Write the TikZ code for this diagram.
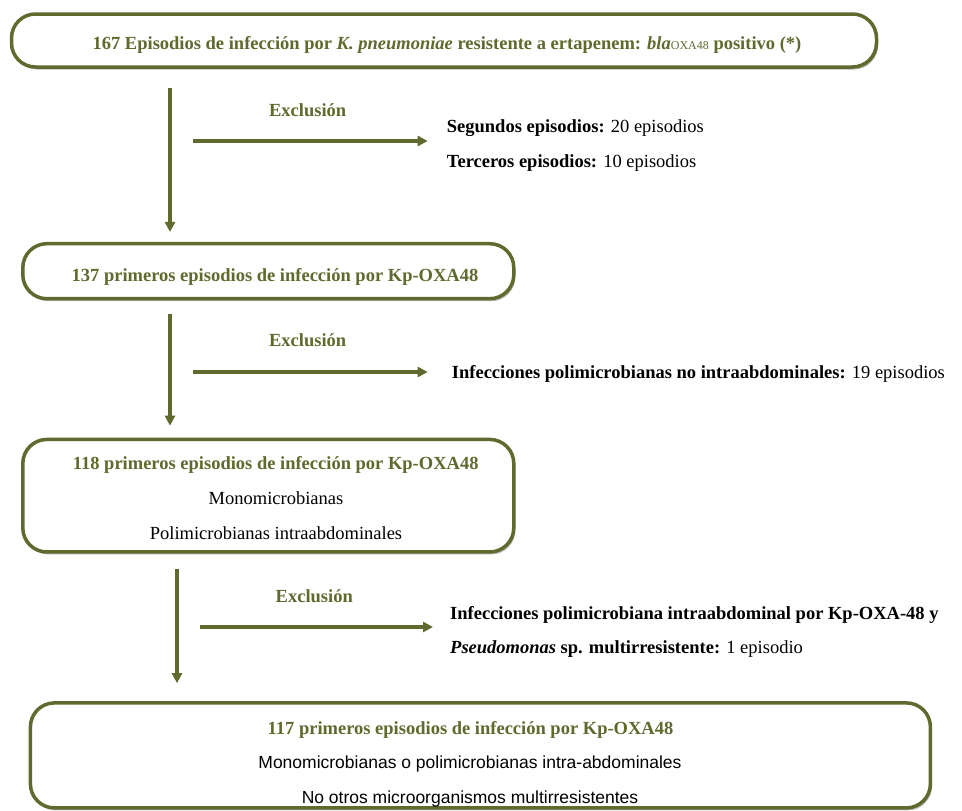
\documentclass[tikz,border=0pt]{standalone}
\usepackage{fontspec}
\setmainfont{Liberation Serif}
\newfontfamily\arialfont{Liberation Sans}
\usepackage{tikz}
\usetikzlibrary{calc,arrows.meta,positioning,shadows}
\definecolor{olivegreen}{RGB}{95,106,46}

\begin{document}
\begin{tikzpicture}[x=1pt,y=-1pt,
	box/.style={draw=olivegreen, line width=3.5pt, rounded corners=24pt, fill=white, drop shadow={shadow xshift=1.5pt, shadow yshift=-2.5pt, fill=black!50, opacity=0.55}},
	boxtitle/.style={text=olivegreen, font=\fontsize{18.5}{21}\selectfont\bfseries, inner sep=0pt, anchor=base},
	excl/.style={text=olivegreen, font=\fontsize{18.5}{21}\selectfont\bfseries, inner sep=0pt, anchor=base},
	note/.style={font=\fontsize{18.5}{21}\selectfont, inner sep=0pt, anchor=base west},
	plain/.style={font=\fontsize{18.5}{21}\selectfont, inner sep=0pt, anchor=base},
	sansline/.style={font=\fontsize{17.5}{20}\selectfont\arialfont, inner sep=0pt, anchor=base},
	paths/.style={-{Triangle[length=10pt,width=10pt]}, draw=olivegreen, line width=3.2pt}
	] % End Creating Flow Chart Pieces

\useasboundingbox (0,0) rectangle (962,811);

% boxes
\node [box, minimum width=865, minimum height=53] at (444,40.5) (ep167) {};
\node [box, minimum width=491, minimum height=55] at (268.3,271.2) (ep137) {};
\node [box, minimum width=491, minimum height=112.5] at (268.3,495.7) (ep118) {};
\node [box, minimum width=900, minimum height=105] at (480.4,755.4) (ep117) {};

% box texts
\node [boxtitle] at (447,49) (t167) {167 Episodios de infección por \textit{K. pneumoniae} resistente a ertapenem: \textit{bla}{\mdseries\fontsize{12}{12}\selectfont OXA48} positivo (*)};
\node [boxtitle] at (275,281) (t137) {137 primeros episodios de infección por Kp-OXA48};
\node [boxtitle] at (275.7,469) (t118) {118 primeros episodios de infección por Kp-OXA48};
\node [plain] at (276,504) (mono) {Monomicrobianas};
\node [plain] at (276,539) (poli) {Polimicrobianas intraabdominales};
\node [boxtitle] at (470.5,734) (t117) {117 primeros episodios de infección por Kp-OXA48};
\node [sansline] at (470,768) (monopoli) {Monomicrobianas o polimicrobianas intra-abdominales};
\node [sansline] at (470,803) (nootros) {No otros microorganismos multirresistentes};

% exclusions
\node [excl] at (307.7,116) (ex1) {Exclusión};
\node [excl] at (307.7,346) (ex2) {Exclusión};
\node [excl] at (314.3,602) (ex3) {Exclusión};

\node [note] at (446.7,132) (seg) {\textbf{Segundos episodios:} 20 episodios};
\node [note] at (446.7,167) (ter) {\textbf{Terceros episodios:} 10 episodios};
\node [note] at (451.7,378) (nointra) {\textbf{Infecciones polimicrobianas no intraabdominales:} 19 episodios};
\node [note] at (450,619) (pseu1) {\textbf{Infecciones polimicrobiana intraabdominal por Kp-OXA-48 y}};
\node [note] at (450,653) (pseu2) {\textbf{\textit{Pseudomonas} sp. multirresistente:} 1 episodio};

% columns of the arrows
\coordinate (c1) at (170,0);
\coordinate (c3) at (177,0);
\coordinate (h1) at (193,141);
\coordinate (h2) at (193,372);
\coordinate (h3) at (200,627);

% paths
\draw[paths, shorten <=19pt, shorten >=10pt] (ep167.south -| c1) -- (ep137.north -| c1);
\draw[paths, shorten <=14pt, shorten >=12pt] (ep137.south -| c1) -- (ep118.north -| c1);
\draw[paths, shorten <=15pt, shorten >=18pt] (ep118.south -| c3) -- (ep117.north -| c3);

\draw[paths, shorten >=19pt] (h1) -- (h1 -| seg.west);
\draw[paths, shorten >=24pt] (h2) -- (h2 -| nointra.west);
\draw[paths, shorten >=17pt] (h3) -- (h3 -| pseu1.west);

\end{tikzpicture}
\end{document}
